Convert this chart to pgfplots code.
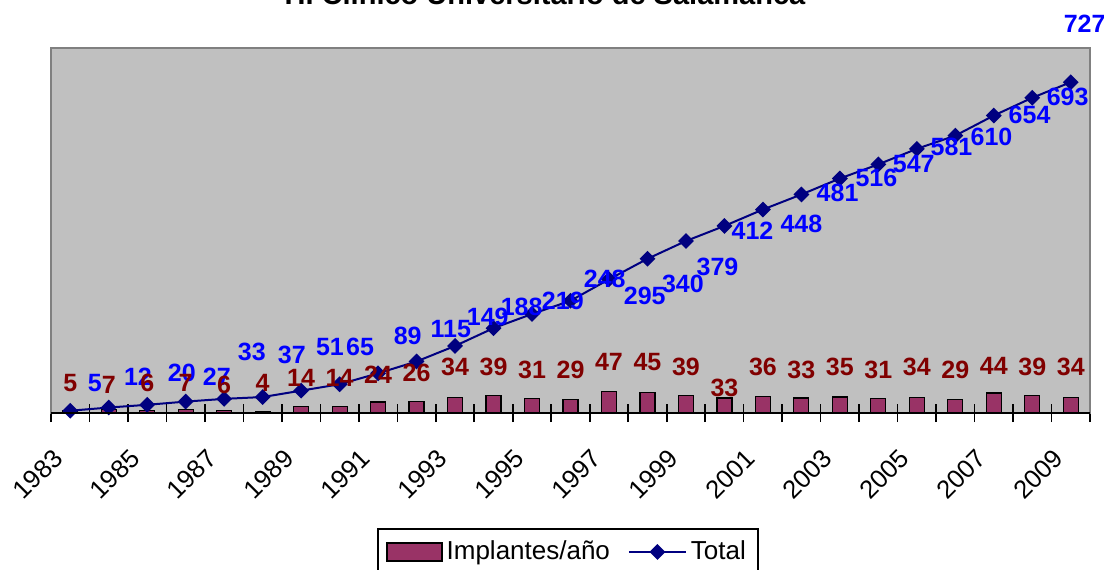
\documentclass[border=0pt]{standalone}
\usepackage{fontspec}
\setmainfont{Liberation Sans}
\usepackage{pgfplots}
\usepackage{pgfplotstable}
\pgfplotsset{compat=1.18}

\definecolor{plotgray}{HTML}{C0C0C0}
\definecolor{bordergray}{HTML}{808080}
\definecolor{plum}{HTML}{993366}
\definecolor{navy}{HTML}{000080}
\definecolor{lblred}{HTML}{800000}
\definecolor{lblblue}{HTML}{0000FF}

\pgfplotsset{
  barlegend/.style={legend image code/.code={\draw[fill=plum, draw=black, line width=0.8pt] (0pt,-4.5pt) rectangle (27.5pt,4.5pt);}},
  linelegend/.style={legend image code/.code={\draw[mark repeat=2, mark phase=2, ##1] plot coordinates {(0pt,0pt) (14.25pt,0pt) (28.5pt,0pt)};}},
}

% year index 0 = 1983
\pgfplotstableread{
x implantes total
0 5 5
1 7 12
2 6 18
3 7 25
4 6 31
5 4 35
6 14 49
7 14 63
8 24 87
9 26 113
10 34 147
11 39 186
12 31 217
13 29 246
14 47 293
15 45 338
16 39 377
17 33 410
18 36 446
19 33 479
20 35 514
21 31 545
22 34 579
23 29 608
24 44 652
25 39 691
26 34 725
}\datos

% where the red labels sit
\pgfplotstableread{
x y label
0 66 5
1 62 7
2 66 6
3 66 7
4 62 6
5 66 4
6 77 14
7 77 14
8 84 24
9 88 26
10 100 34
11 100 39
12 95 31
13 95 29
14 111 47
15 111 45
16 100 39
17 55 33
18 100 36
19 95 33
20 100 35
21 95 31
22 100 34
23 95 29
24 104 44
25 100 39
26 100 34
}\rojos

% where the blue labels sit
\pgfplotstableread{
x y label
0.64 66 5
1.76 80 12
2.90 88 20
3.81 80 27
4.72 135 33
5.76 128 37
6.75 144 51
7.53 144 65
8.77 168 89
9.89 184 115
10.85 210 149
11.73 232 188
12.80 246 219
13.89 294 248
14.93 257 295
15.92 283 340
16.82 321 379
17.73 400 412
19.00 414 448
19.94 482 481
20.95 515 516
21.92 546 547
22.90 584 581
23.94 606 610
24.93 653 654
25.92 692 693
26.36 854 727
}\azules

\begin{document}
\begin{tikzpicture}
\begin{axis}[
  scale only axis,
  width=519.5pt, height=182.5pt,
  xmin=-0.5, xmax=26.5,
  ymin=0, ymax=800,
  clip=false,
  axis background/.style={fill=plotgray},
  axis line style={bordergray, line width=1pt},
  ytick=\empty,
  xtick pos=left,
  xtick={0,2,...,26},
  xticklabels={1983,1985,1987,1989,1991,1993,1995,1997,1999,2001,2003,2005,2007,2009},
  major tick length=0pt,
  minor xtick={-0.5,0.5,...,26.5},
  minor tick length=9pt,
  tick align=center,
  minor tick style={black, line width=0.8pt},
  xticklabel style={xshift=-6pt, yshift=-20.5pt, rotate=45, anchor=east, inner sep=0pt,
    font=\fontsize{12.8}{15}\selectfont},
  legend style={
    at={(0.3138,-0.3151)}, anchor=north west,
    draw=black, line width=1pt, fill=white,
    font=\fontsize{13}{15.5}\selectfont,
    inner xsep=4pt, inner ysep=4pt,
    /tikz/every even column/.append style={column sep=7pt},
  },
  legend columns=2,
  after end axis/.code={\draw[black, line width=1pt] (rel axis cs:0,0) -- (rel axis cs:1,0);},
]
\addplot[ybar, bar width=7.5pt, fill=plum, draw=black, line width=0.6pt, barlegend]
  table[x=x, y=implantes]{\datos};
\addlegendentry{Implantes/año}

\addplot[navy, line width=1pt, mark=square*, mark size=2.3pt,
  mark options={solid, fill=navy, rotate=45}, linelegend]
  table[x=x, y=total]{\datos};
\addlegendentry{Total\hspace{6pt}}

\addplot[draw=none, mark=none, nodes near coords, point meta=explicit symbolic,
  nodes near coords align=center,
  every node near coord/.style={anchor=center, inner sep=0pt, text=lblblue,
    font=\bfseries\fontsize{12.5}{15}\selectfont}, forget plot]
  table[x=x, y=y, meta=label]{\azules};

\addplot[draw=none, mark=none, nodes near coords, point meta=explicit symbolic,
  nodes near coords align=center,
  every node near coord/.style={anchor=center, inner sep=0pt, text=lblred,
    font=\bfseries\fontsize{12.5}{15}\selectfont}, forget plot]
  table[x=x, y=y, meta=label]{\rojos};
\end{axis}
\node[anchor=base, font=\bfseries\fontsize{14.5}{17}\selectfont] at (247pt,204.5pt)
  {H. Clínico Universitario de Salamanca};
\pgfresetboundingbox
\useasboundingbox (-25.5pt,-78pt) rectangle (526.5pt,206.5pt);
\end{tikzpicture}
\end{document}
